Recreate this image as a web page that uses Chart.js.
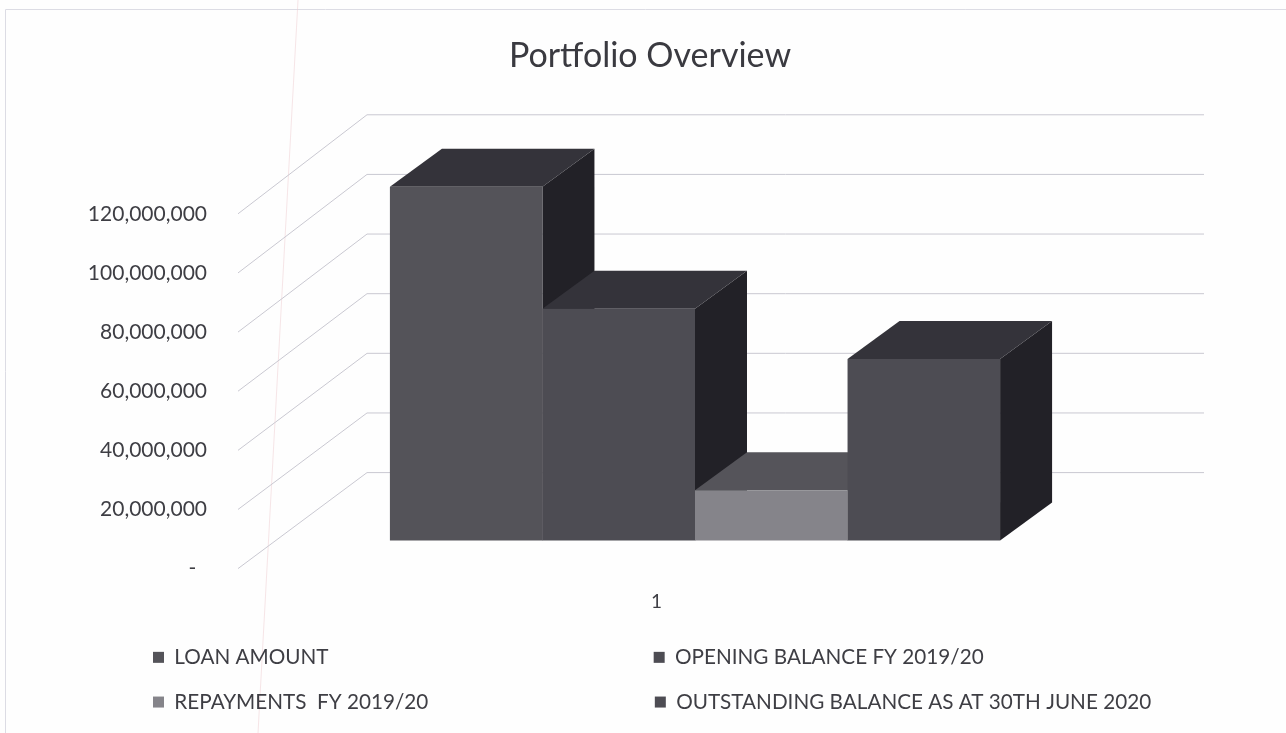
<!DOCTYPE html>
<html>
<head>
<meta charset="utf-8">
<title>Portfolio Overview</title>
<script src="https://cdn.jsdelivr.net/npm/chart.js@4"></script>
<style>
html,body{margin:0;padding:0;background:#fefefe;overflow:hidden}
#wrap{width:1286px;height:733px;position:relative}
</style>
</head>
<body>
<div id="wrap"><canvas id="c" width="1286" height="733"></canvas></div>
<script>
const categories = ['1'];
const loanAmount = [119700000];
const openingBalance = [78400000];
const repayments = [17000000];
const outstandingBalance = [61400000];
const seriesNames = ['LOAN AMOUNT', 'OPENING BALANCE FY 2019/20', 'REPAYMENTS  FY 2019/20', 'OUTSTANDING BALANCE AS AT 30TH JUNE 2020'];
const frontColors = ['#545359', '#4d4c53', '#85848a', '#4d4c53'];
const topColors = ['#34333a', '#34333a', '#55545a', '#34333a'];
const sideColors = ['#222127', '#222127', '#222127', '#222127'];
const yMax = 120000000;
const yStep = 20000000;

const FONT = 'Lato, "Open Sans", sans-serif';
const TEXT = '#3e3e44';
const GRID = '#c9c8d1';

// 3D projection constants
const WALL = {dx: 129, dy: -96, right: 1204, stretch: 1.0085};
const BAR_SHIFT = {x: 38.5, y: -28};
const BAR_DEPTH = {x: 52, y: -38};

const scene3d = {
  id: 'scene3d',
  afterLayout(chart) {
    const lg = chart.legend;
    lg.left = 129; lg.right = 1286; lg.top = 623;
    const tt = chart.titleBlock;
    tt.left = 14; tt.right = 1286;
  },
  beforeDraw(chart) {
    const c = chart.ctx;
    c.save();
    c.strokeStyle = '#dcdce4'; c.lineWidth = 1;
    c.beginPath();
    c.moveTo(5.5, 733); c.lineTo(5.5, 9.5); c.lineTo(1286, 9.5);
    c.stroke();
    c.strokeStyle = 'rgba(240,205,210,0.5)';
    c.beginPath(); c.moveTo(298, 0); c.lineTo(258, 733); c.stroke();
    c.restore();
  },
  beforeDatasetsDraw(chart) {
    const c = chart.ctx, ys = chart.scales.y, area = chart.chartArea;
    c.save();
    c.strokeStyle = GRID; c.lineWidth = 1;
    const base = ys.getPixelForValue(0);
    ys.ticks.forEach(t => {
      const y = ys.getPixelForValue(t.value);
      const by = base + WALL.dy - (base - y) * WALL.stretch;
      c.beginPath();
      c.moveTo(area.left, y);
      c.lineTo(area.left + WALL.dx, by);
      c.lineTo(WALL.right, by);
      c.stroke();
    });
    c.translate(BAR_SHIFT.x, BAR_SHIFT.y);
    chart.data.datasets.forEach((ds, i) => {
      const el = chart.getDatasetMeta(i).data[0];
      const l = el.x - el.width / 2, r = el.x + el.width / 2, t = el.y, b = el.base;
      const dx = BAR_DEPTH.x, dy = BAR_DEPTH.y;
      c.fillStyle = sideColors[i];
      c.beginPath();
      c.moveTo(r, t); c.lineTo(r + dx, t + dy); c.lineTo(r + dx, b + dy); c.lineTo(r, b);
      c.closePath(); c.fill();
      c.fillStyle = topColors[i];
      c.beginPath();
      c.moveTo(l, t); c.lineTo(l + dx, t + dy); c.lineTo(r + dx, t + dy); c.lineTo(r, t);
      c.closePath(); c.fill();
    });
  },
  afterDatasetsDraw(chart) {
    chart.ctx.restore();
  }
};

const seriesValues = [loanAmount, openingBalance, repayments, outstandingBalance];

new Chart(document.getElementById('c'), {
  type: 'bar',
  data: {
    labels: categories,
    datasets: seriesNames.map((name, i) => ({
      label: name,
      data: seriesValues[i],
      backgroundColor: frontColors[i],
      borderWidth: 0,
      clip: false,
      categoryPercentage: 0.729,
      barPercentage: 1
    }))
  },
  options: {
    responsive: false,
    animation: false,
    layout: {padding: {left: 0, right: 211, top: 0, bottom: 0}},
    plugins: {
      tooltip: {enabled: false},
      title: {
        display: true,
        text: 'Portfolio Overview',
        color: '#3a3a40',
        font: {family: FONT, size: 34, weight: 'normal'},
        padding: {top: 36, bottom: 137}
      },
      legend: {
        position: 'bottom',
        align: 'start',
        labels: {
          color: TEXT,
          font: {family: FONT, size: 20.7},
          boxWidth: 11,
          boxHeight: 11,
          padding: 24,
          generateLabels(chart) {
            const base = Chart.defaults.plugins.legend.labels.generateLabels(chart);
            const c = chart.ctx;
            c.save();
            c.font = '20.7px ' + FONT;
            const sp = c.measureText('\u00a0').width;
            const hair = c.measureText('\u200a').width || 1;
            base.forEach((it, i) => {
              it.lineWidth = 0;
              if (i % 2 === 0) {
                const w = c.measureText(it.text).width;
                const gap = Math.max(456 - w, 0);
                const n = Math.floor(gap / sp);
                const m = Math.round((gap - n * sp) / hair);
                it.text = it.text + '\u00a0'.repeat(n) + '\u200a'.repeat(m);
              }
            });
            c.restore();
            return base;
          }
        }
      }
    },
    scales: {
      x: {
        grid: {display: false},
        border: {display: false},
        ticks: {color: TEXT, font: {family: FONT, size: 19}, padding: 14},
        afterFit(s) { s.height = 65; }
      },
      y: {
        min: 0,
        max: yMax,
        grid: {display: false},
        border: {display: false},
        ticks: {
          stepSize: yStep,
          color: TEXT,
          padding: 23,
          font: {family: FONT, size: 21},
          callback: v => v === 0 ? '-\u00a0\u00a0' : v.toLocaleString('en-US')
        },
        afterFit(s) { s.width = 238; }
      }
    }
  },
  plugins: [scene3d]
});
</script>
</body>
</html>
